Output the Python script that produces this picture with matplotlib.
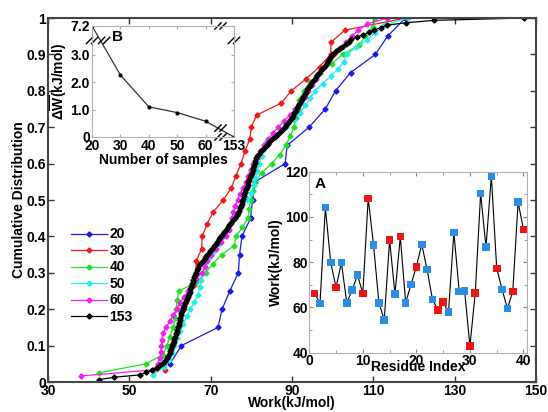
import numpy as np
import matplotlib
matplotlib.use("Agg")
import matplotlib.pyplot as plt

plt.rcParams['font.family'] = ['Liberation Sans', 'DejaVu Sans']
plt.rcParams['font.weight'] = 'bold'
plt.rcParams['mathtext.fontset'] = 'custom'
plt.rcParams['mathtext.rm'] = 'Liberation Sans:bold'
plt.rcParams['mathtext.bf'] = 'Liberation Sans:bold'

# ---------------- data ----------------
series_labels = ['20', '30', '40', '50', '60', '153']
series_colors = ['#1a1ae6', '#f01818', '#22e022', '#22eeee', '#f020f0', '#000000']

work_20 = [60.0, 62.8, 71.8, 72.8, 74.7, 76.8, 77.1, 77.7, 79.8, 80.3,
           80.9, 88.3, 88.8, 94.2, 98.2, 100.7, 104.4, 110.5, 113.5, 117.9]
work_30 = [58.7, 59.5, 60.0, 61.5, 62.5, 63.4, 64.5, 66.0, 66.3, 66.5,
           67.8, 67.9, 69.1, 70.6, 73.1, 75.1, 76.2, 77.5, 78.4, 79.6,
           80.0, 81.3, 87.4, 89.8, 93.5, 96.8, 99.5, 99.6, 103.0, 118.0]
work_40 = [42.5, 54.0, 58.3, 59.2, 60.0, 60.8, 61.2, 61.5, 61.8, 62.2,
           66.5, 68.8, 70.6, 72.7, 75.8, 76.2, 77.8, 79.2, 79.5, 79.8,
           80.3, 80.9, 82.5, 85.0, 87.0, 88.5, 89.5, 90.5, 91.0, 91.4,
           91.7, 93.0, 94.5, 97.0, 99.8, 102.5, 106.5, 108.0, 110.0, 110.5]
work_50 = [55.9, 58.5, 59.8, 60.4, 61.0, 61.8, 62.5, 63.3, 64.1, 65.0,
           66.0, 66.9, 67.3, 67.7, 68.1, 68.6, 69.5, 70.8, 72.0, 73.0,
           73.9, 75.0, 76.5, 77.5, 79.0, 80.0, 80.6, 81.0, 81.5, 82.0,
           82.5, 83.0, 83.5, 86.0, 88.5, 90.5, 92.0, 93.3, 94.5, 95.6,
           97.5, 99.5, 101.3, 102.7, 103.5, 105.8, 108.5, 110.5, 112.5, 118.5]
work_60 = [38.1, 55.9, 57.0, 57.5, 57.8, 57.9, 58.0, 58.2, 59.0, 60.0,
           60.8, 61.6, 62.4, 63.5, 64.5, 65.5, 66.5, 67.8, 68.5, 69.2,
           70.0, 71.3, 72.5, 73.7, 74.4, 74.8, 75.2, 75.6, 76.0, 76.6,
           77.2, 78.0, 78.6, 79.2, 79.8, 80.5, 81.3, 82.1, 83.2, 84.1,
           85.3, 86.6, 88.0, 89.5, 90.8, 92.0, 93.1, 94.0, 95.0, 96.0,
           96.6, 97.8, 99.0, 100.3, 101.9, 103.2, 104.8, 106.3, 108.5, 113.4]
work_153 = [42.5, 46.3, 52.6, 54.2, 55.5, 56.7, 57.5, 58.3, 58.8, 59.2,
            59.6, 59.9, 60.1, 60.3, 60.5, 60.7, 60.9, 61.1, 61.3, 61.5,
            61.6, 61.8, 61.9, 62.1, 62.2, 62.4, 62.5, 62.7, 62.8, 63.0,
            63.3, 63.5, 63.8, 64.0, 64.3, 64.5, 64.7, 64.9, 65.0, 65.2,
            65.4, 65.6, 65.7, 66.0, 66.2, 66.5, 66.7, 67.0, 67.2, 67.5,
            68.0, 68.5, 68.9, 69.4, 69.8, 70.3, 70.8, 71.3, 71.6, 72.0,
            72.3, 72.8, 73.3, 73.7, 74.2, 74.6, 75.1, 75.6, 76.0, 76.4,
            76.7, 77.0, 77.2, 77.4, 77.6, 77.8, 77.9, 78.1, 78.3, 78.5,
            78.7, 78.9, 79.1, 79.3, 79.5, 79.7, 79.9, 80.1, 80.3, 80.4,
            80.6, 80.8, 81.0, 81.2, 81.4, 81.8, 82.3, 82.9, 83.5, 84.0,
            84.4, 85.0, 85.7, 86.4, 87.0, 87.6, 88.2, 88.6, 89.0, 89.5,
            89.9, 90.3, 90.6, 90.9, 91.2, 91.5, 91.8, 92.2, 92.5, 92.8,
            93.1, 93.4, 93.7, 94.1, 94.5, 94.9, 95.3, 95.8, 96.2, 96.7,
            97.1, 97.6, 98.0, 98.5, 98.9, 99.3, 99.7, 100.1, 100.8, 101.6,
            102.4, 103.2, 104.0, 104.6, 106.0, 107.5, 109.0, 110.2, 112.0, 113.4,
            118.0, 124.8, 147.0]
all_work = [work_20, work_30, work_40, work_50, work_60, work_153]

# inset B
n_samples = ['20', '30', '40', '50', '60', '153']
delta_w = [7.2, 2.26, 1.10, 0.89, 0.575, 0.0]
b_ytick_vals = [0, 1.0, 2.0, 3.0, 7.2]
b_ytick_labels = ['0', '1.0', '2.0', '3.0', '7.2']

# inset A
residue_idx = list(range(1, 41))
residue_work = [66.2, 61.8, 104.2, 79.8, 68.9, 79.8, 62.1, 67.7, 74.3, 66.2,
                108.2, 87.6, 62.1, 54.5, 89.8, 65.9, 91.3, 62.1, 70.2, 78.0,
                87.9, 76.8, 63.6, 58.9, 62.3, 57.9, 93.2, 67.0, 67.4, 43.0,
                66.5, 110.4, 86.6, 118.1, 77.3, 68.0, 59.6, 67.0, 106.5, 94.5]
residue_class = ['r', 'b', 'b', 'b', 'r', 'b', 'b', 'b', 'b', 'r',
                 'r', 'b', 'b', 'b', 'r', 'b', 'r', 'b', 'b', 'r',
                 'b', 'b', 'b', 'r', 'r', 'b', 'b', 'b', 'b', 'r',
                 'r', 'b', 'b', 'b', 'r', 'b', 'b', 'r', 'b', 'r']

# ---------------- figure ----------------
fig = plt.figure(figsize=(5.48, 4.12), dpi=100)
ax = fig.add_axes([0.0876, 0.0728, 0.8905, 0.8835])

for w, lab, col in zip(all_work, series_labels, series_colors):
    w = np.asarray(w)
    y = np.arange(1, len(w) + 1) / len(w)
    ax.plot(w, y, color=col, lw=0.9, marker='D', ms=2.6, label=lab)

ax.set_xlim(30, 150)
ax.set_ylim(0, 1)
ax.set_xticks([30, 50, 70, 90, 110, 130, 150])
ax.set_yticks(np.round(np.arange(0, 1.01, 0.1), 1))
ax.set_yticklabels(['0', '0.1', '0.2', '0.3', '0.4', '0.5', '0.6', '0.7', '0.8', '0.9', '1'])
ax.tick_params(direction='in', top=True, right=True, labelsize=10, length=4, width=1,
               color='#333333', pad=1.5)
for s in ax.spines.values():
    s.set_linewidth(1.5)
    s.set_color('#444444')
ax.set_xlabel('Work(kJ/mol)', fontsize=10, fontweight='bold', labelpad=-1.5)
ax.set_ylabel('Cumulative Distribution', fontsize=10, fontweight='bold', labelpad=0)
leg = ax.legend(loc='upper left', bbox_to_anchor=(0.035, 0.44), frameon=False,
                fontsize=10, handlelength=2.6, labelspacing=0.18, handletextpad=0.2,
                borderaxespad=0)

# ---------------- inset B ----------------
axb = fig.add_axes([0.168, 0.6675, 0.259, 0.2694])
brk = 3.5
def squash(v):
    v = np.asarray(v, dtype=float)
    return np.where(v > brk, brk + (v - brk) * 0.55 / 3.7, v)

xb = np.arange(len(n_samples))
axb.plot(xb, squash(delta_w), color='#333333', lw=0.9, marker='o', ms=2,
         mfc='black', mec='black')
axb.set_xlim(0, len(n_samples) - 1)
axb.set_ylim(0, float(squash([7.2])[0]))
axb.set_xticks(xb)
axb.set_xticklabels(n_samples)
axb.set_yticks(squash(b_ytick_vals))
axb.set_yticklabels(b_ytick_labels)
axb.tick_params(direction='in', labelsize=10, length=2, color='#aaaaaa', pad=1.5,
                top=True, right=True)
for s in axb.spines.values():
    s.set_linewidth(0.8)
    s.set_color('#b0b0b0')
axb.set_xlabel('Number of samples', fontsize=10, fontweight='bold', labelpad=0)
axb.set_ylabel(r'$\mathbf{\Delta\overline{W}}$(kJ/mol)', fontsize=10, fontweight='bold',
               labelpad=1)
axb.text(0.14, 0.9, 'B', transform=axb.transAxes, fontsize=11, fontweight='bold',
         ha='left', va='center')

def slashes(axis, xf, yf):
    d = 0.022
    for off in (-0.018, 0.018):
        axis.plot([xf + off - d, xf + off + d], [yf - d * 1.3, yf + d * 1.3],
                  transform=axis.transAxes, color='black', lw=1.0, clip_on=False)

slashes(axb, 0.0, 0.87)
slashes(axb, 0.085, 0.87)
slashes(axb, 1.0, 0.87)
slashes(axb, 0.905, 1.0)
slashes(axb, 0.905, 0.0)
slashes(axb, 0.905, 0.08)

# ---------------- inset A ----------------
axa = fig.add_axes([0.5644, 0.1439, 0.3967, 0.4393])
axa.plot(residue_idx, residue_work, color='black', lw=0.8, zorder=1)
cmap = {'r': '#ee1515', 'b': '#2b8de6'}
axa.scatter(residue_idx, residue_work, marker='s', s=30,
            c=[cmap[c] for c in residue_class], zorder=2, linewidths=0)
axa.set_xlim(0, 40.6)
axa.set_ylim(40, 120)
axa.set_xticks([0, 10, 20, 30, 40])
axa.set_xticks(np.arange(0, 41, 5), minor=True)
axa.set_yticks([40, 60, 80, 100, 120])
axa.set_yticks(np.arange(40, 121, 10), minor=True)
axa.tick_params(which='both', direction='in', top=True, right=True, color='#888888')
axa.tick_params(which='major', labelsize=10, length=3, pad=1)
axa.tick_params(which='minor', length=2)
for s in axa.spines.values():
    s.set_linewidth(0.8)
    s.set_color('#b0b0b0')
axa.set_xlabel('Residue Index', fontsize=10, fontweight='bold', labelpad=-6)
axa.set_ylabel('Work(kJ/mol)', fontsize=10, fontweight='bold', labelpad=1)
axa.text(0.025, 0.93, 'A', transform=axa.transAxes, fontsize=11, fontweight='bold',
         ha='left', va='center')

fig.savefig('out.png', dpi=100)
